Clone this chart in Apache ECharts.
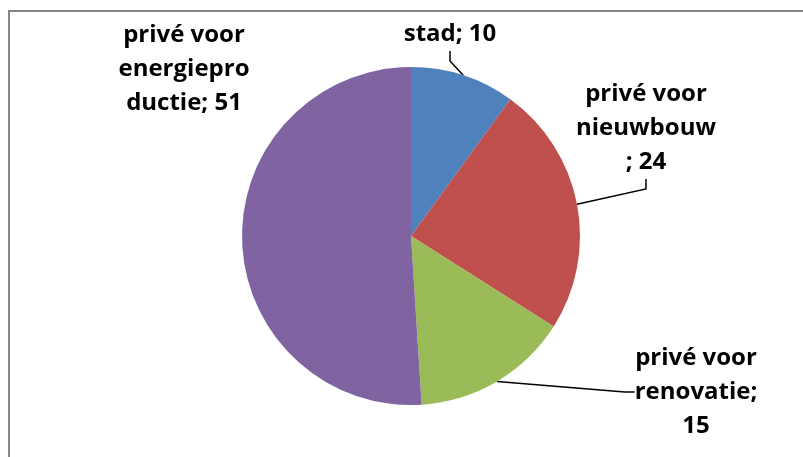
<!DOCTYPE html>
<html>
<head>
<meta charset="utf-8">
<script src="https://cdn.jsdelivr.net/npm/echarts@6/dist/echarts.min.js"></script>
<style>
html,body{margin:0;padding:0;background:#fff;}
#chart{width:803px;height:457px;}
</style>
</head>
<body>
<div id="chart"></div>
<script>
const categories = ["stad", "privé voor nieuwbouw", "privé voor renovatie", "privé voor energieproductie"];
const values = [10, 24, 15, 51];
// wrapped label templates as they appear in the reference ({v} = value)
const labelTemplates = ["stad; {v}", "privé voor\nnieuwbouw\n; {v}", "privé voor\nrenovatie;\n{v}", "privé voor\nenergiepro\nductie; {v}"];
const showLine = [true, true, true, false];
const colors = ["#4F81BD", "#C0504D", "#9BBB59", "#8064A2"];
const labelPos = [[450, 34], [646, 128], [696, 392], [184, 69]];

const chart = echarts.init(document.getElementById('chart'), null, {renderer: 'canvas'});
chart.setOption({
  animation: false,
  graphic: [{
    type: 'rect',
    shape: {x: 9, y: 11, width: 1000, height: 1000},
    style: {fill: 'none', stroke: '#868686', lineWidth: 2},
    silent: true
  }],
  series: [{
    type: 'pie',
    center: [411, 236],
    radius: [0, 169],
    startAngle: 90,
    clockwise: true,
    data: categories.map((c, i) => ({
      name: c, value: values[i],
      itemStyle: {color: colors[i]},
      labelLine: {show: showLine[i]}
    })),
    label: {
      show: true,
      position: 'outside',
      formatter: p => labelTemplates[p.dataIndex].replace('{v}', p.value),
      fontFamily: 'Open Sans',
      fontWeight: 'bold',
      fontSize: 24,
      lineHeight: 34,
      color: '#000',
      align: 'center'
    },
    labelLine: {
      show: true,
      length: 10,
      length2: 10,
      lineStyle: {color: '#000', width: 1.5}
    },
    labelLayout: p => ({
      x: labelPos[p.dataIndex][0],
      y: labelPos[p.dataIndex][1],
      align: 'center',
      verticalAlign: 'middle'
    })
  }]
});
</script>
</body>
</html>
